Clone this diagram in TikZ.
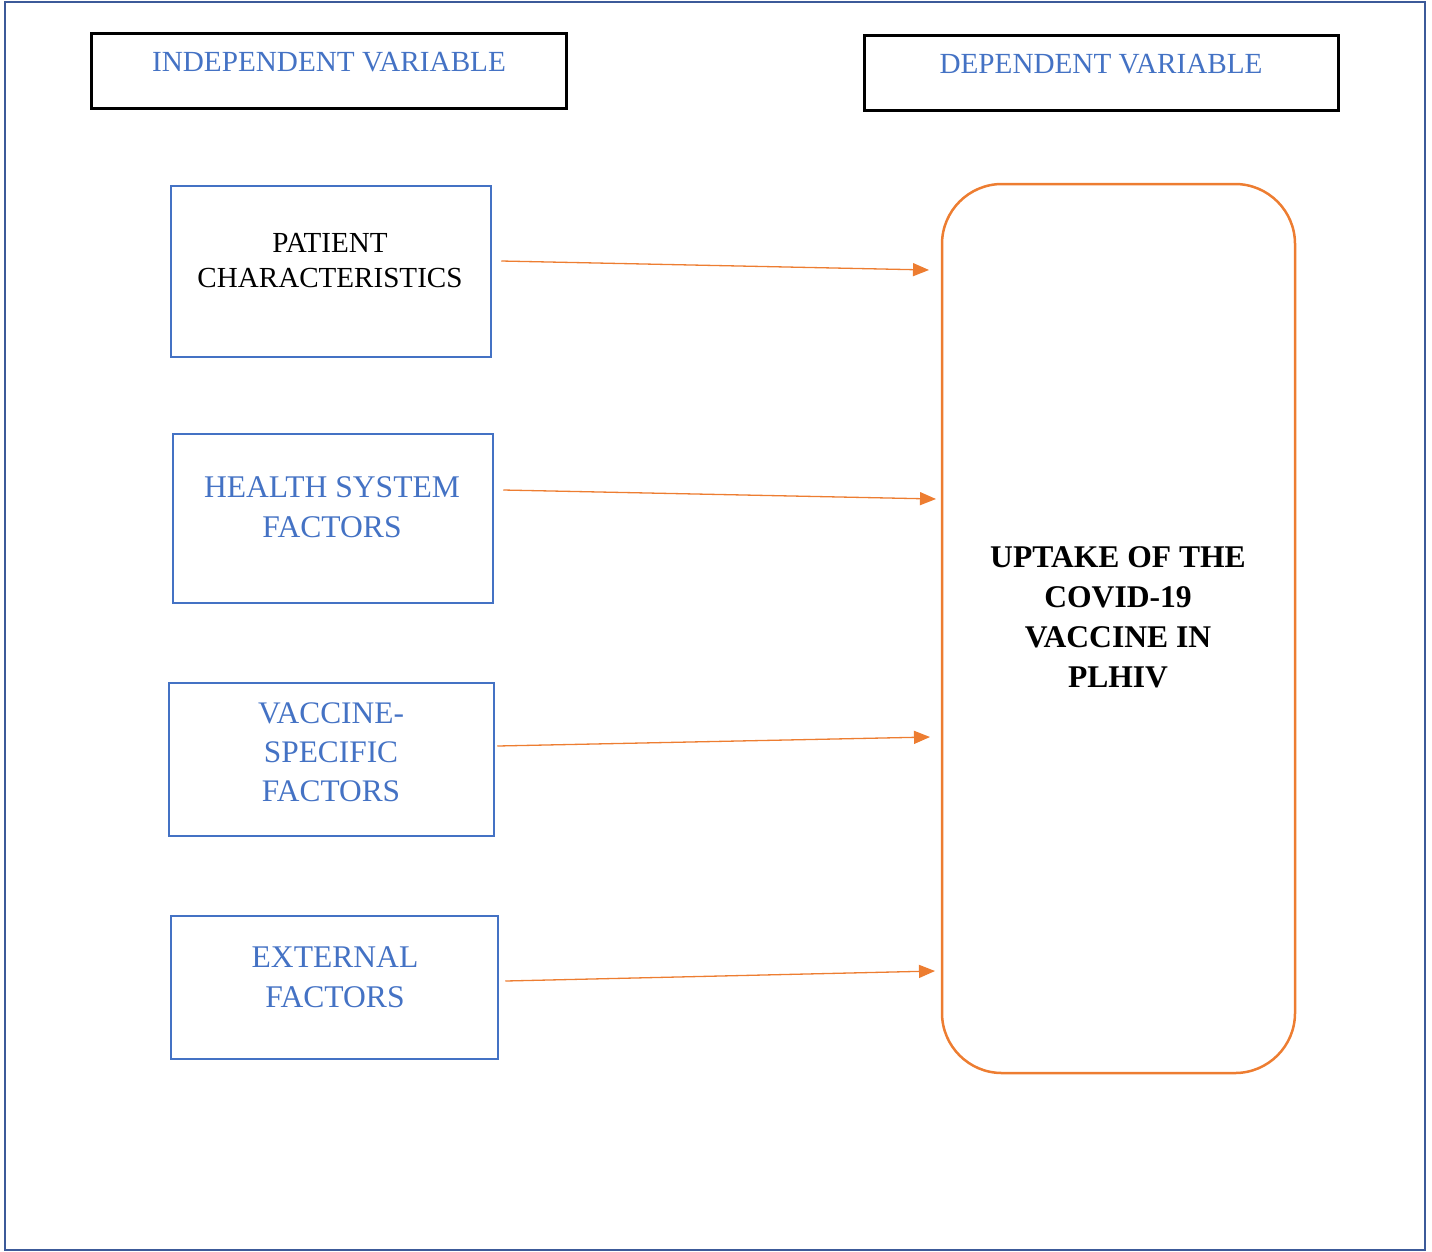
\documentclass[tikz,border=0pt]{standalone}
\usepackage{fontspec}
\setmainfont{Liberation Serif}
\usepackage{xcolor}
\usetikzlibrary{arrows.meta}
\definecolor{frameblue}{HTML}{3C5A99}
\definecolor{boxblue}{HTML}{4472C4}
\definecolor{uporange}{HTML}{ED7D31}

\begin{document}
\begin{tikzpicture}[x=1bp, y=-1bp]
        % ================= 样式定义 =================
        \tikzset{
            % 标题框:黑色粗边
            titlebox/.style={draw=black, line width=3bp, minimum width=474bp, minimum height=75bp, inner sep=0pt},
            % 标题文字:蓝色
            titletext/.style={text=boxblue, font=\fontsize{29.3}{35}\selectfont},
            % 自变量框:蓝色边
            varbox/.style={draw=boxblue, line width=2.5bp, inner sep=0pt},
            % 框内文字
            vartext/.style={align=center, text=boxblue, font=\fontsize{31.7}{40}\selectfont},
            % 因变量圆角框:橙色
            outbox/.style={draw=uporange, line width=2.5bp, rounded corners=60bp, minimum width=353bp, minimum height=889bp, inner sep=0pt},
            % 箭头:橙色细线
            flow/.style={uporange, line width=1.3bp, -{Triangle[length=16bp, width=13bp]}}
        }

        % ================= 0. 画布与外框 =================
        \useasboundingbox (0,0) rectangle (1432,1251);
        \draw[frameblue, line width=2.5bp] (5,2) rectangle (1425,1250);

        % ================= 1. 标题 =================
        \node[titlebox] (indbox) at (329,70.5) {};
        \node[titletext] (indtxt) at (329,62) {INDEPENDENT VARIABLE};
        \node[titlebox] (depbox) at (1101,72.5) {};
        \node[titletext] (deptxt) at (1101,64) {DEPENDENT VARIABLE};

        % ================= 2. 自变量框 =================
        \node[varbox, minimum width=320bp, minimum height=171bp] (pat) at (331,271.5) {};
        \node[vartext, text=black, font=\fontsize{29.2}{35}\selectfont] (pattxt) at (330,260.5) {PATIENT\\CHARACTERISTICS};

        \node[varbox, minimum width=320bp, minimum height=169bp] (hlth) at (333,518.5) {};
        \node[vartext] (hlthtxt) at (332,507) {HEALTH SYSTEM\\FACTORS};

        \node[varbox, minimum width=325bp, minimum height=153bp] (vac) at (331.5,759.5) {};
        \node[vartext, font=\fontsize{31.5}{39}\selectfont] (vactxt) at (331,752) {VACCINE-\\SPECIFIC\\FACTORS};

        \node[varbox, minimum width=327bp, minimum height=143bp] (ext) at (334.5,987.5) {};
        \node[vartext] (exttxt) at (335,977) {EXTERNAL\\FACTORS};

        % ================= 3. 因变量框 =================
        \node[outbox] (uptake) at (1118.5,628.5) {};
        \node[align=center, font=\bfseries\fontsize{31.7}{40}\selectfont] (uptxt) at (1118,617)
            {UPTAKE OF THE\\COVID-19\\VACCINE IN\\PLHIV};

        % ================= 4. 箭头 =================
        % 箭头终点(圆角框左侧)
        \coordinate (t1) at (929,270);
        \coordinate (t2) at (936,499);
        \coordinate (t3) at (930,737);
        \coordinate (t4) at (935,971);

        \draw[flow] ([xshift=9bp, yshift=10.5bp]pat.east) -- (t1);
        \draw[flow] ([xshift=9bp, yshift=28.5bp]hlth.east) -- (t2);
        \draw[flow] ([xshift=2bp, yshift=13.5bp]vac.east) -- (t3);
        \draw[flow] ([xshift=6bp, yshift=6.5bp]ext.east) -- (t4);

    \end{tikzpicture}
\end{document}
